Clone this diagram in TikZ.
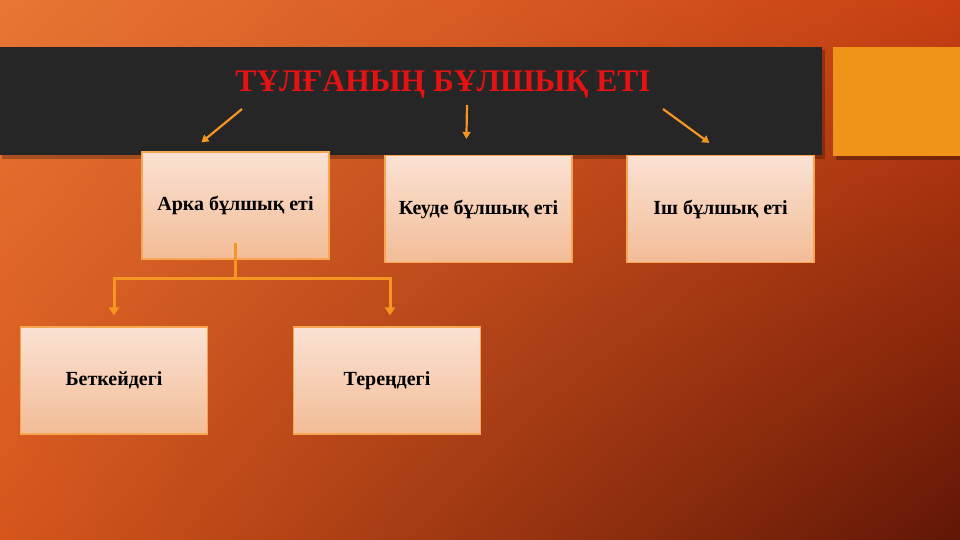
\documentclass[tikz,border=0pt]{standalone}
\usepackage{fontspec}
\setmainfont{Liberation Serif}
\usetikzlibrary{arrows.meta,shadings}
\definecolor{bgtl}{RGB}{232,118,52}
\definecolor{bgtr}{RGB}{200,64,18}
\definecolor{bgbl}{RGB}{214,86,28}
\definecolor{bgbr}{RGB}{98,22,6}
\definecolor{band}{RGB}{38,38,38}
\definecolor{tabo}{RGB}{239,148,25}
\definecolor{linko}{RGB}{245,150,35}
\definecolor{boxtop}{RGB}{251,226,212}
\definecolor{boxbot}{RGB}{242,188,150}
\definecolor{boxrim}{RGB}{246,165,80}
\definecolor{titlered}{RGB}{228,18,18}

\begin{document}
\begin{tikzpicture}[x=1pt,y=-1pt,
part/.style={draw=boxrim,line width=1.2pt,top color=boxtop,bottom color=boxbot,minimum width=187pt,minimum height=107pt,inner sep=0pt,font=\fontsize{20}{24}\selectfont\bfseries},
lnk/.style={draw=linko,line width=2.2pt,-{Triangle[length=7pt,width=8pt]}}]
\useasboundingbox(0,0)rectangle(960,540);
\shade[upper left=bgtl,upper right=bgtr,lower left=bgbl,lower right=bgbr](0,0)rectangle(960,540);
\fill[black,opacity=0.25](2,50)rectangle(825,159);
\fill[band](0,47)rectangle(822,155);
\fill[black,opacity=0.3](836,51)rectangle(960,160);
\fill[tabo](833,47)rectangle(960,156);
\node[text=titlered,font=\fontsize{31.5}{36}\selectfont\bfseries](title)at(443,84){ТҰЛҒАНЫҢ БҰЛШЫҚ ЕТІ};
\node[part](arc)at(235.5,205.5){Арка бұлшық еті};
\node[part](chest)at(478.5,209){Кеуде бұлшық еті};
\node[part](belly)at(720.5,209){Іш бұлшық еті};
\node[part](surf)at(114,380.5){Беткейдегі};
\node[part](deep)at(387,380.5){Тереңдегі};
\coordinate(a1)at(242,109);
\coordinate(a2)at(467,105);
\coordinate(a3)at(663,109);
\draw[lnk](a1)--([xshift=60pt,yshift=9pt]arc.north west);
\draw[lnk](a2)--([xshift=82pt,yshift=16pt]chest.north west);
\draw[lnk](a3)--([xshift=83pt,yshift=12pt]belly.north west);
\draw[lnk,line width=3pt,-{Triangle[length=8pt,width=10pt]}]([yshift=17pt]arc.south)--++(0,36)-|([yshift=11pt]surf.north);
\draw[lnk,line width=3pt,-{Triangle[length=8pt,width=10pt]}]([yshift=17pt]arc.south)--++(0,36)-|([xshift=3pt,yshift=11pt]deep.north);
\end{tikzpicture}
\end{document}
